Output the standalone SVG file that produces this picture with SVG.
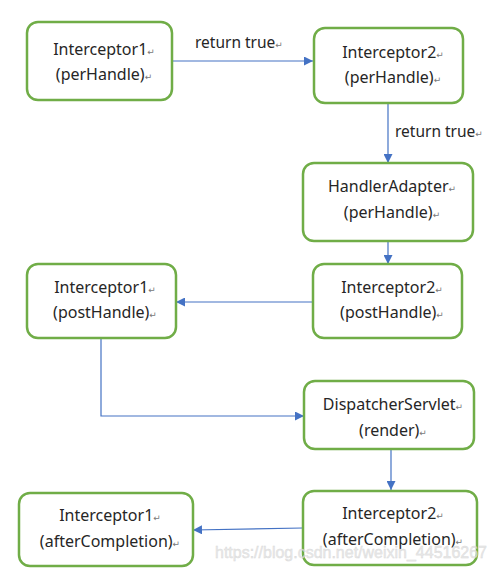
<svg xmlns="http://www.w3.org/2000/svg" width="496" height="572" viewBox="0 0 496 572">
<style>
.box{fill:#fff;stroke:#70AD47;stroke-width:2.5}
.t{font-family:"Noto Sans","DejaVu Sans",sans-serif;font-size:16px;fill:#262626;text-anchor:middle}
.lbl{font-family:"Noto Sans","DejaVu Sans",sans-serif;font-size:15.5px;fill:#262626}
.rt{font-family:"DejaVu Sans",sans-serif;font-size:9px;fill:#777}
.c{fill:none;stroke:#4472C4;stroke-width:1.2}
.wm{font-family:"Liberation Sans",Arial,sans-serif;font-size:17px;fill:#e4e4e4;stroke:#cfcfcf;stroke-width:0.4;opacity:0.8}
</style>
<defs>
<marker id="ah" viewBox="0 0 10 10" refX="10" refY="5" markerWidth="9" markerHeight="9" markerUnits="userSpaceOnUse" orient="auto">
<path d="M0,0 L10,5 L0,10 z" fill="#4472C4"/>
</marker>
</defs>
<rect width="496" height="572" fill="#fff"/>
<g id="connectors">
<line class="c" x1="172" y1="61" x2="313" y2="61" marker-end="url(#ah)"/>
<line class="c" x1="388" y1="103" x2="388" y2="163" marker-end="url(#ah)"/>
<line class="c" x1="388" y1="241" x2="388" y2="264" marker-end="url(#ah)"/>
<line class="c" x1="313" y1="302" x2="176" y2="302" marker-end="url(#ah)"/>
<polyline class="c" points="101,338 101,416 304,416" marker-end="url(#ah)"/>
<line class="c" x1="391" y1="449" x2="391" y2="490" marker-end="url(#ah)"/>
<line class="c" x1="303" y1="528" x2="193" y2="530" marker-end="url(#ah)"/>
<text class="lbl" x="195" y="48">return true<tspan class="rt">↵</tspan></text>
<text class="lbl" x="395" y="137">return true<tspan class="rt">↵</tspan></text>
</g>
<g id="n1">
<rect class="box" x="27" y="22" width="145" height="78" rx="11"/>
<text class="t" x="104" y="55">Interceptor1<tspan class="rt">↵</tspan></text>
<text class="t" x="104" y="80">(perHandle)<tspan class="rt">↵</tspan></text>
</g>
<g id="n2">
<rect class="box" x="314" y="28" width="149" height="75" rx="11"/>
<text class="t" x="393" y="58">Interceptor2<tspan class="rt">↵</tspan></text>
<text class="t" x="393" y="83">(perHandle)<tspan class="rt">↵</tspan></text>
</g>
<g id="n3">
<rect class="box" x="303" y="163" width="170" height="78" rx="11"/>
<text class="t" x="392" y="192">HandlerAdapter<tspan class="rt">↵</tspan></text>
<text class="t" x="392" y="218">(perHandle)<tspan class="rt">↵</tspan></text>
</g>
<g id="n4">
<rect class="box" x="313" y="264" width="149" height="74" rx="11"/>
<text class="t" x="392" y="293">Interceptor2<tspan class="rt">↵</tspan></text>
<text class="t" x="392" y="318">(postHandle)<tspan class="rt">↵</tspan></text>
</g>
<g id="n5">
<rect class="box" x="27" y="264" width="149" height="74" rx="11"/>
<text class="t" x="105" y="293">Interceptor1<tspan class="rt">↵</tspan></text>
<text class="t" x="105" y="318">(postHandle)<tspan class="rt">↵</tspan></text>
</g>
<g id="n6">
<rect class="box" x="304" y="381" width="170" height="68" rx="11"/>
<text class="t" x="393" y="410">DispatcherServlet<tspan class="rt">↵</tspan></text>
<text class="t" x="393" y="436">(render)<tspan class="rt">↵</tspan></text>
</g>
<g id="n7">
<rect class="box" x="303" y="491" width="174" height="74" rx="11"/>
<text class="t" x="393" y="519">Interceptor2<tspan class="rt">↵</tspan></text>
<text class="t" x="393" y="545">(afterCompletion)<tspan class="rt">↵</tspan></text>
</g>
<g id="n8">
<rect class="box" x="19" y="493" width="174" height="73" rx="11"/>
<text class="t" x="110" y="521">Interceptor1<tspan class="rt">↵</tspan></text>
<text class="t" x="110" y="547">(afterCompletion)<tspan class="rt">↵</tspan></text>
</g>
<text class="wm" x="215" y="558" textLength="272" lengthAdjust="spacingAndGlyphs">https://blog.csdn.net/weixin_44516267</text>
</svg>
